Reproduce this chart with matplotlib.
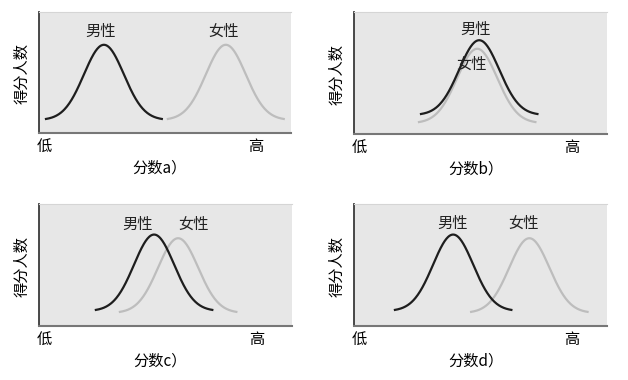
import numpy as np
import matplotlib.pyplot as plt

plt.rcParams['font.family'] = ['Noto Sans CJK SC', 'DejaVu Sans']

panel_tags = ['a', 'b', 'c', 'd']

# bell curves: centre, half-span, peak height, baseline (axis units 0..100 / 0..1)
male_center = [25.8, 49.4, 45.5, 39.1]
male_peak = [0.73, 0.77, 0.75, 0.75]
male_base = [0.107, 0.156, 0.123, 0.123]
female_center = [74.2, 48.6, 55.0, 69.2]
female_peak = [0.73, 0.70, 0.72, 0.72]
female_base = [0.107, 0.09, 0.107, 0.107]
half_span = 23.0

# label positions (x, y) in axis units
male_label = [(24.5, 0.84), (48.0, 0.86), (39.0, 0.83), (39.0, 0.84)]
female_label = [(73.5, 0.84), (46.5, 0.57), (61.0, 0.83), (67.0, 0.84)]

positions = [
    [0.062, 0.650, 0.401, 0.318],
    [0.564, 0.647, 0.403, 0.321],
    [0.062, 0.142, 0.403, 0.321],
    [0.564, 0.142, 0.403, 0.321],
]

male_color = '#1e1e1e'
female_color = '#bdbdbd'


def bell(center, peak, base):
    x = np.linspace(center - half_span, center + half_span, 200)
    sigma = half_span / 2.9
    y = base + (peak - base) * np.exp(-0.5 * ((x - center) / sigma) ** 2)
    return x, y


fig = plt.figure(figsize=(6.28, 3.8), dpi=100)
fig.patch.set_facecolor('white')

for i, tag in enumerate(panel_tags):
    ax = fig.add_axes(positions[i])
    ax.set_facecolor('#e7e7e7')
    ax.set_xlim(0, 100)
    ax.set_ylim(0, 1)

    # female first so male is drawn on top
    fx, fy = bell(female_center[i], female_peak[i], female_base[i])
    ax.plot(fx, fy, color=female_color, lw=1.6)
    mx, my = bell(male_center[i], male_peak[i], male_base[i])
    ax.plot(mx, my, color=male_color, lw=1.6)

    ax.text(*male_label[i], '男性', ha='center', va='center', fontsize=11, color='#222222')
    ax.text(*female_label[i], '女性', ha='center', va='center', fontsize=11, color='#222222')

    ax.set_xticks([])
    ax.set_yticks([])
    ax.spines['top'].set_color('#d5d5d5')
    ax.spines['top'].set_linewidth(0.8)
    ax.spines['right'].set_visible(False)
    ax.spines['left'].set_color('#3a3a3a')
    ax.spines['left'].set_linewidth(1.3)
    ax.spines['bottom'].set_color('#777777')
    ax.spines['bottom'].set_linewidth(1.5)

    ax.text(0.02, -0.11, '低', transform=ax.transAxes, ha='center', va='center', fontsize=11)
    ax.text(0.86, -0.11, '高', transform=ax.transAxes, ha='center', va='center', fontsize=11)
    ax.text(0.48, -0.29, f'分数{tag}）', transform=ax.transAxes, ha='center', va='center', fontsize=11)
    ax.text(-0.068, 0.49, '得分人数', transform=ax.transAxes, ha='center', va='center',
            rotation=90, fontsize=11)

fig.savefig('out.png', dpi=100)
